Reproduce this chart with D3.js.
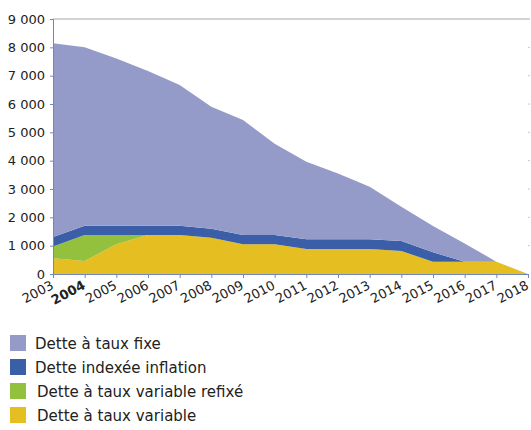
<!DOCTYPE html>
<html>
<head>
<meta charset="utf-8">
<script src="https://cdn.jsdelivr.net/npm/d3@7"></script>
<style>
  body { margin: 0; background: #fff; }
  text { font-family: "DejaVu Sans", "Liberation Sans", sans-serif; fill: #222; }
</style>
</head>
<body>
<svg width="531" height="430"></svg>
<script>
(function(d3) {
    'use strict';

    const years = [2003, 2004, 2005, 2006, 2007, 2008, 2009, 2010, 2011, 2012, 2013, 2014, 2015, 2016, 2017, 2018];
    const variable = [560, 460, 1050, 1380, 1380, 1280, 1050, 1050, 880, 880, 880, 810, 435, 435, 435, 0];
    const variableRefixe = [410, 920, 330, 0, 0, 0, 0, 0, 0, 0, 0, 0, 0, 0, 0, 0];
    const inflation = [340, 320, 320, 320, 320, 320, 330, 330, 345, 345, 345, 355, 330, 0, 0, 0];
    const fixe = [6830, 6300, 5910, 5465, 4970, 4305, 4055, 3220, 2735, 2325, 1855, 1210, 930, 645, 0, 0];
    const yTicks = [0, 1000, 2000, 3000, 4000, 5000, 6000, 7000, 8000, 9000];

    const seriesKeys = ['variable', 'refixe', 'inflation', 'fixe'];
    const seriesColors = {
        variable: '#e5bf21',
        refixe: '#93c13d',
        inflation: '#3b5ea9',
        fixe: '#959bc8'
    };
    const legendOrder = [
        ['fixe', 'Dette à taux fixe'],
        ['inflation', 'Dette indexée inflation'],
        ['refixe', 'Dette à taux variable refixé'],
        ['variable', 'Dette à taux variable']
    ];

    const rows = years.map((yr, i) => ({
        year: yr,
        variable: variable[i],
        refixe: variableRefixe[i],
        inflation: inflation[i],
        fixe: fixe[i]
    }));

    const svg = d3.select('svg');
    const mLeft = 53, mRight = 528, mTop = 19, mBottom = 274;

    const x = d3.scaleLinear().domain([2003, 2018]).range([mLeft, mRight]);
    const y = d3.scaleLinear().domain([0, 9000]).range([mBottom, mTop]);

    const stacked = d3.stack().keys(seriesKeys)(rows);

    const area = d3.area()
        .x(d => x(d.data.year))
        .y0(d => y(d[0]))
        .y1(d => y(d[1]));

    // top grid line
    svg.append('line')
        .attr('x1', mLeft).attr('x2', 530)
        .attr('y1', y(9000)).attr('y2', y(9000))
        .attr('stroke', '#c4c4c4').attr('stroke-width', 1.5);

    svg.append('g').selectAll('path')
        .data(stacked)
        .enter().append('path')
        .attr('d', area)
        .attr('fill', d => seriesColors[d.key]);

    // right side small ticks
    svg.append('g').selectAll('line')
        .data(yTicks.slice(1, -1))
        .enter().append('line')
        .attr('x1', 528).attr('x2', 530)
        .attr('y1', d => y(d)).attr('y2', d => y(d))
        .attr('stroke', '#c8c8c8');

    const fmt = d => d3.format(',')(d).replace(',', ' ');

    const yAxis = svg.append('g')
        .attr('transform', `translate(${mLeft},0)`)
        .call(d3.axisLeft(y).tickValues(yTicks).tickSize(3).tickFormat(fmt));
    yAxis.select('.domain').attr('stroke', '#6f86c4');
    yAxis.selectAll('.tick line').attr('stroke', '#6f86c4');
    yAxis.selectAll('text')
        .attr('x', -8)
        .style('font-size', '13px')
        .style('fill', '#222');

    const xAxis = svg.append('g')
        .attr('transform', `translate(0,${mBottom})`)
        .call(d3.axisBottom(x).tickValues(years).tickSize(4).tickSizeOuter(0).tickFormat(d3.format('d')));
    xAxis.select('.domain').attr('stroke', '#6f86c4');
    xAxis.selectAll('.tick line').attr('stroke', '#6f86c4');
    xAxis.selectAll('text')
        .attr('text-anchor', 'end')
        .attr('dy', null)
        .attr('y', 0)
        .attr('transform', 'translate(1,14) rotate(-28)')
        .style('font-size', '13px')
        .style('font-weight', d => d === 2004 ? 'bold' : 'normal')
        .style('fill', '#222');

    const legend = svg.append('g').attr('transform', 'translate(10,335)');
    const items = legend.selectAll('g')
        .data(legendOrder)
        .enter().append('g')
        .attr('transform', (d, i) => `translate(0,${i * 24})`);
    items.append('rect')
        .attr('width', 16).attr('height', 16)
        .attr('fill', d => seriesColors[d[0]]);
    items.append('text')
        .attr('x', (d, i) => i > 1 ? 27 : 25)
        .attr('y', 14)
        .style('font-size', '15px')
        .text(d => d[1]);
}(d3));
</script>
</body>
</html>
